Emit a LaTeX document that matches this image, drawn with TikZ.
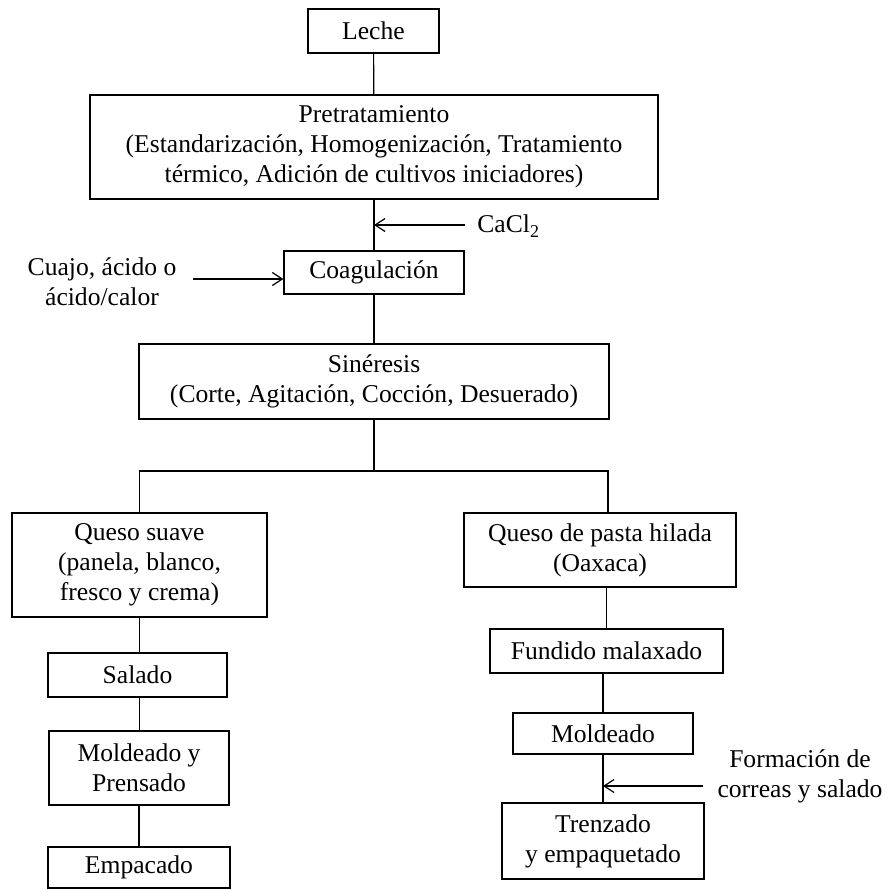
\documentclass[tikz,border=0pt]{standalone}
\usepackage{fontspec}
\setmainfont{Liberation Serif}
\usepackage{tikz}
\usetikzlibrary{arrows.meta}

\tikzset{
  paso/.style={draw, line width=0.6pt, align=center, inner sep=0pt, font=\fontsize{12.8}{15}\selectfont},
  etiqueta/.style={align=center, inner sep=0pt, font=\fontsize{12.8}{15}\selectfont},
  linea/.style={line width=0.6pt},
  flecha/.style={line width=0.6pt, -{Straight Barb[length=5pt,width=6.5pt]}}
}

\begin{document}
\begin{tikzpicture}[x=0.5pt,y=0.5pt,yscale=-1,xscale=1]
    \useasboundingbox (0,0) rectangle (886,890);

    % Boxes, main line
    \node [paso, minimum width=65.5pt, minimum height=22pt] (leche) at (373.5,31) {Leche};
    \node [paso, minimum width=284pt, minimum height=52pt] (pre) at (374,147) {Pretratamiento\\(Estandarización, Homogenización, Tratamiento\\térmico, Adición de cultivos iniciadores)};
    \node [paso, minimum width=90pt, minimum height=21.5pt] (coag) at (374,272.5) {Coagulación};
    \node [paso, minimum width=235pt, minimum height=37.5pt] (sin) at (374,381.5) {Sinéresis\\(Corte, Agitación, Cocción, Desuerado)};

    % Boxes, left branch
    \node [paso, minimum width=127.5pt, minimum height=52pt] (suave) at (139.5,565) {Queso suave\\(panela, blanco,\\fresco y crema)};
    \node [paso, minimum width=89.5pt, minimum height=22pt] (salado) at (137.5,675) {Salado};
    \node [paso, minimum width=90pt, minimum height=37pt] (prensado) at (139,768) {Moldeado y\\Prensado};
    \node [paso, minimum width=91pt, minimum height=20.5pt] (empacado) at (139,867.5) {Empacado};

    % Boxes, right branch
    \node [paso, minimum width=136pt, minimum height=37pt] (hilada) at (600,550) {Queso de pasta hilada\\(Oaxaca)};
    \node [paso, minimum width=116.5pt, minimum height=22pt] (fundido) at (606.5,651) {Fundido malaxado};
    \node [paso, minimum width=90pt, minimum height=20.5pt] (molde) at (603,733.5) {Moldeado};
    \node [paso, minimum width=101pt, minimum height=38pt] (trenza) at (603,841) {Trenzado\\y empaquetado};

    % Text Node
    \node [etiqueta, anchor=west] (cacl) at (477,226) {CaCl\raisebox{-0.45ex}{\fontsize{9}{9}\selectfont 2}};
    % Text Node
    \node [etiqueta] (cuajo) at (102,282) {Cuajo, ácido o\\ácido/calor};
    % Text Node
    \node [etiqueta] (formacion) at (800,776) {Formación de\\correas y salado};

    \coordinate (cuajoin) at (193,279);
    \coordinate (caclin) at (465,225);
    \coordinate (formin) at (703,786);
    \coordinate (barra) at (608,471);

    %Straight Lines
    \draw [linea] (leche) -- (pre);
    \draw [linea] (pre) -- (coag);
    \draw [linea] (coag) -- (sin);
    \draw [linea] (sin.south) -- (sin.south |- barra);
    \draw [linea] (suave.north) |- (barra) -- (barra |- hilada.north);
    \draw [linea] (suave.south) -- (suave.south |- salado.north);
    \draw [linea] (suave.south |- salado.south) -- (suave.south |- prensado.north);
    \draw [linea] (prensado.south) -- (empacado.north -| prensado.south);
    \draw [linea] (fundido.north |- hilada.south) -- (fundido.north);
    \draw [linea] (molde.north |- fundido.south) -- (molde.north);
    \draw [linea] (molde) -- (trenza);

    %Arrows
    \draw [flecha] (caclin) -- (caclin -| pre.south);
    \draw [flecha] (cuajoin) -- (cuajoin -| coag.west);
    \draw [flecha] (formin) -- (formin -| molde.south);
\end{tikzpicture}
\end{document}
